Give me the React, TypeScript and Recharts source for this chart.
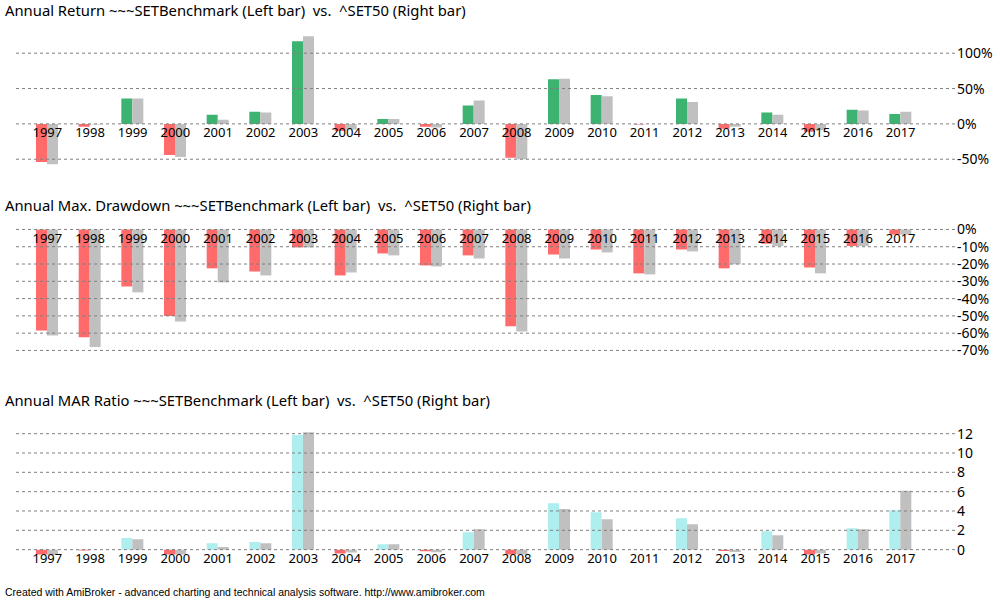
import React from 'react'
import { BarChart, Bar, Cell, Line, LabelList, XAxis, YAxis, ReferenceLine } from 'recharts'

const YEARS = ['1997', '1998', '1999', '2000', '2001', '2002', '2003', '2004', '2005', '2006', '2007',
  '2008', '2009', '2010', '2011', '2012', '2013', '2014', '2015', '2016', '2017']

// annual return, %
const RETURN_BENCH = [-54, -4, 36, -44, 13, 17, 117, -10, 7, -4, 26, -48, 63, 41, -1, 36, -7, 16, -11, 20, 14]
const RETURN_SET50 = [-57, -1, 36, -47, 6, 16, 124, -8, 7, -5, 33, -50, 64, 39, 0, 31, -4, 13, -9, 19, 17]

// annual max drawdown, %
const DD_BENCH = [-58.4, -62.4, -33, -50, -22.5, -24.3, -10.4, -26.6, -13.9, -20.8, -15, -56, -14.5, -11.6, -25.4, -11.6, -22.5, -8.3, -22, -9.6, -3]
const DD_SET50 = [-61.3, -68, -36.4, -53.2, -30.6, -26.6, -10.4, -24.9, -15, -21.4, -16.8, -59, -16.8, -13.3, -26, -12.7, -20.2, -9.6, -25.4, -9.6, -3]

// annual MAR ratio
const MAR_BENCH = [-0.5, -0.1, 1.2, -0.5, 0.66, 0.8, 11.85, -0.4, 0.55, -0.17, 1.8, -0.5, 4.8, 3.87, 0, 3.25, -0.15, 1.9, -0.5, 2.2, 4.07]
const MAR_SET50 = [-0.55, 0, 1.07, -0.5, 0.28, 0.66, 12.15, -0.3, 0.55, -0.28, 2.1, -0.5, 4.2, 3.15, 0, 2.63, -0.25, 1.48, -0.4, 2.1, 6.1]

const RETURN_TICKS = [-50, 0, 50, 100]
const DD_TICKS = [-70, -60, -50, -40, -30, -20, -10, 0]
const MAR_TICKS = [0, 2, 4, 6, 8, 10, 12]

const GREEN = '#3cb371'
const RED = '#ff6a6a'
const GREY = '#c0c0c0'
const TURQ = '#afeeee'

const FONT = '"Noto Sans", Tahoma, sans-serif'

type PanelProps = {
  top: number
  height: number
  left: number[]
  right: number[]
  domain: [number, number]
  ticks: number[]
  fmt: (v: number) => string
  posColor: string
}

function Panel({ top, height, left, right, domain, ticks, fmt, posColor }: PanelProps) {
  const data = YEARS.map((year, i) => ({ year, a: left[i], b: right[i] }))
  return (
    <div style={{ position: 'absolute', left: 0, top, width: 1000, height }}>
      <BarChart
        width={1000}
        height={height}
        data={data}
        margin={{ top: 10, right: 0, bottom: 10, left: 15 }}
        barGap={0}
        barSize={11}
      >
        <XAxis dataKey="year" hide padding={{ left: 11, right: 33 }} />
        <YAxis
          orientation="right"
          width={45}
          domain={domain}
          ticks={ticks}
          interval={0}
          tickFormatter={fmt}
          axisLine={false}
          tickLine={false}
          tickSize={0}
          tickMargin={2}
          tick={{ fill: '#000', fontSize: 14, fontFamily: FONT, textAnchor: 'start' }}
          allowDataOverflow
        />
        {ticks.map((t) => (
          <ReferenceLine key={t} y={t} stroke="#808080" strokeDasharray="3 3" />
        ))}
        <Bar dataKey="a" isAnimationActive={false}>
          {data.map((d, i) => (
            <Cell key={i} fill={d.a < 0 ? RED : posColor} />
          ))}
        </Bar>
        <Bar dataKey="b" fill={GREY} isAnimationActive={false} />
        <Line
          dataKey={() => 0}
          stroke="none"
          dot={false}
          activeDot={false}
          isAnimationActive={false}
        >
          <LabelList
            dataKey="year"
            content={(p: any) => (
              <text x={p.x} y={p.y + 13.5} textAnchor="middle" fontSize={13} fontFamily={FONT} fill="#000">
                {p.value}
              </text>
            )}
          />
        </Line>
      </BarChart>
    </div>
  )
}

const titleStyle: React.CSSProperties = {
  position: 'absolute',
  left: 5,
  fontFamily: FONT,
  fontSize: 14.8,
  lineHeight: '18px',
  whiteSpace: 'pre',
  color: '#000',
}

export default function App() {
  return (
    <div style={{ position: 'absolute', left: 0, top: 0, width: 1000, height: 600, background: '#fff', overflow: 'hidden' }}>
      <div style={{ ...titleStyle, top: 1 }}>Annual Return ~~~SETBenchmark (Left bar)  vs.  ^SET50 (Right bar)</div>
      <div style={{ ...titleStyle, top: 196 }}>Annual Max. Drawdown ~~~SETBenchmark (Left bar)  vs.  ^SET50 (Right bar)</div>
      <div style={{ ...titleStyle, top: 391 }}>Annual MAR Ratio ~~~SETBenchmark (Left bar)  vs.  ^SET50 (Right bar)</div>

      <Panel
        top={22.1}
        height={154.3}
        left={RETURN_BENCH}
        right={RETURN_SET50}
        domain={[-60, 130]}
        ticks={RETURN_TICKS}
        fmt={(v) => `${v}%`}
        posColor={GREEN}
      />
      <Panel
        top={215.5}
        height={153.1}
        left={DD_BENCH}
        right={DD_SET50}
        domain={[-75, 2]}
        ticks={DD_TICKS}
        fmt={(v) => `${v}%`}
        posColor={GREEN}
      />
      <Panel
        top={413.7}
        height={155.3}
        left={MAR_BENCH}
        right={MAR_SET50}
        domain={[-1, 13]}
        ticks={MAR_TICKS}
        fmt={(v) => `${v}`}
        posColor={TURQ}
      />

      <div
        style={{
          position: 'absolute',
          left: 5,
          top: 586,
          fontFamily: '"Liberation Sans", Arial, sans-serif',
          fontSize: 10.5,
          lineHeight: '13px',
          color: '#000',
          whiteSpace: 'pre',
        }}
      >
        Created with AmiBroker - advanced charting and technical analysis software. http://www.amibroker.com
      </div>
    </div>
  )
}
